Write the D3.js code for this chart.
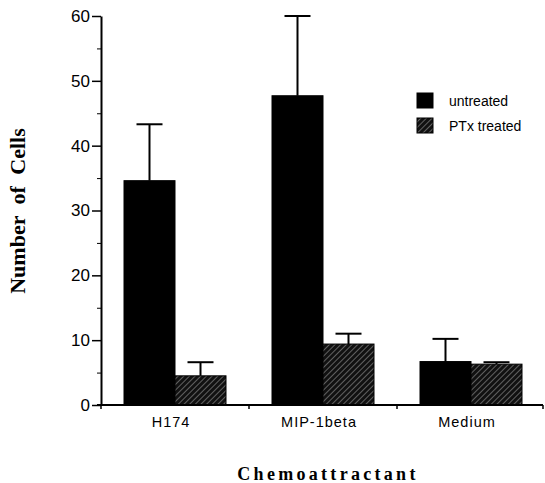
<!DOCTYPE html>
<html>
<head>
<meta charset="utf-8">
<script src="https://cdn.jsdelivr.net/npm/d3@7"></script>
<style>
  body { margin: 0; background: #fff; }
  svg { display: block; }
  .tick text { font-family: "Liberation Sans", Arial, sans-serif; fill: #000; }
  .axis-label { font-family: "Liberation Serif", "Times New Roman", serif; font-weight: bold; fill: #000; }
</style>
</head>
<body>
<svg id="chart" width="545" height="483"></svg>
<script>
// values
const categories = ["H174", "MIP-1beta", "Medium"];
const seriesNames = ["untreated", "PTx treated"];
const untreated = [34.6, 47.7, 6.7];
const untreatedErr = [8.7, 12.3, 3.5];
const ptx = [4.5, 9.4, 6.3];
const ptxErr = [2.1, 1.6, 0.3];
const yTicks = [0, 10, 20, 30, 40, 50, 60];
const yMinorTicks = [5, 15, 25, 35, 45, 55];

const svg = d3.select('#chart');
const defs = svg.append('defs');

// hatch fill for the PTx bars
const pat = defs.append('pattern')
    .attr('id', 'hatch')
    .attr('patternUnits', 'userSpaceOnUse')
    .attr('width', 4)
    .attr('height', 4)
    .attr('patternTransform', 'rotate(45)');
pat.append('rect').attr('width', 4).attr('height', 4).attr('fill', '#111');
pat.append('line')
    .attr('x1', 0).attr('y1', 0).attr('x2', 0).attr('y2', 4)
    .attr('stroke', '#b0b0b0').attr('stroke-width', 1);

const yScale = d3.scaleLinear().domain([0, 60]).range([405, 16]);
const xScale = d3.scaleBand().domain(categories).range([101, 545]).padding(0);
const xSub = d3.scaleBand().domain(seriesNames).range([23, 125]).padding(0);

const fills = { "untreated": "#000", "PTx treated": "url(#hatch)" };

const rows = categories.map((c, i) => ({
    cat: c,
    vals: [
        { s: "untreated", v: untreated[i], e: untreatedErr[i] },
        { s: "PTx treated", v: ptx[i], e: ptxErr[i] }
    ]
}));

const groups = svg.selectAll('g.cat')
    .data(rows)
    .enter()
    .append('g')
    .attr('class', 'cat')
    .attr('transform', d => `translate(${xScale(d.cat)},0)`);

// error bars (upper only) drawn under the bars
groups.selectAll('g.err')
    .data(d => d.vals)
    .enter()
    .append('g')
    .attr('class', 'err')
    .each(function(d) {
        const g = d3.select(this);
        const cx = xSub(d.s) + xSub.bandwidth() / 2;
        g.append('line')
            .attr('x1', cx).attr('x2', cx)
            .attr('y1', yScale(d.v)).attr('y2', yScale(d.v + d.e))
            .attr('stroke', '#000').attr('stroke-width', 2);
        g.append('line')
            .attr('x1', cx - 13).attr('x2', cx + 13)
            .attr('y1', yScale(d.v + d.e)).attr('y2', yScale(d.v + d.e))
            .attr('stroke', '#000').attr('stroke-width', 2);
    });

groups.selectAll('rect')
    .data(d => d.vals)
    .enter()
    .append('rect')
    .attr('x', d => xSub(d.s))
    .attr('width', xSub.bandwidth())
    .attr('y', d => yScale(d.v))
    .attr('height', d => yScale(0) - yScale(d.v))
    .attr('fill', d => fills[d.s])
    .attr('stroke', '#000')
    .attr('stroke-width', 1);

// y axis
const yAxis = d3.axisLeft(yScale).tickValues(yTicks).tickSize(9).tickPadding(2).tickSizeOuter(0);
const gy = svg.append('g').attr('transform', 'translate(101,0)').call(yAxis);
gy.select('.domain').attr('stroke-width', 2);
gy.selectAll('.tick line').attr('stroke-width', 1.5);
gy.selectAll('.tick text').style('font-size', '17px');
svg.append('g').attr('transform', 'translate(101,0)')
    .call(d3.axisLeft(yScale).tickValues(yMinorTicks).tickSize(4).tickFormat('').tickSizeOuter(0))
    .select('.domain').remove();

// x axis
const xAxis = d3.axisBottom(xScale).tickSize(0).tickPadding(12).tickSizeOuter(0);
const gx = svg.append('g').attr('transform', 'translate(0,405)').call(xAxis);
gx.select('.domain').attr('d', 'M97,0H543').attr('stroke-width', 2);
gx.selectAll('.tick text')
    .style('font-size', '14.5px')
    .style('letter-spacing', '1px')
    .attr('dx', -4);
gx.selectAll('line.sep')
    .data(categories.map(c => xScale(c)).concat([xScale.range()[1] - 2]))
    .enter()
    .append('line')
    .attr('class', 'sep')
    .attr('x1', d => d).attr('x2', d => d)
    .attr('y1', 0).attr('y2', 4)
    .attr('stroke', '#000').attr('stroke-width', 1.5);

// axis titles
svg.append('text')
    .attr('class', 'axis-label')
    .attr('transform', 'rotate(-90)')
    .attr('x', -211)
    .attr('y', 25)
    .attr('text-anchor', 'middle')
    .style('font-size', '22px')
    .style('word-spacing', '6px')
    .text('Number of Cells');
svg.append('text')
    .attr('class', 'axis-label')
    .attr('x', 328)
    .attr('y', 480)
    .attr('text-anchor', 'middle')
    .style('font-size', '18px')
    .style('letter-spacing', '3.3px')
    .text('Chemoattractant');

// legend
const legend = svg.append('g').attr('transform', 'translate(417,93)');
legend.selectAll('rect')
    .data(seriesNames)
    .enter()
    .append('rect')
    .attr('x', 0)
    .attr('y', (d, i) => i * 25)
    .attr('width', 16)
    .attr('height', 15)
    .attr('fill', d => fills[d])
    .attr('stroke', '#000');
legend.selectAll('text')
    .data(seriesNames)
    .enter()
    .append('text')
    .attr('x', 32)
    .attr('y', (d, i) => i * 25 + 13)
    .style('font-family', '"Liberation Sans", Arial, sans-serif')
    .style('font-size', '14px')
    .text(d => d);
</script>
</body>
</html>
